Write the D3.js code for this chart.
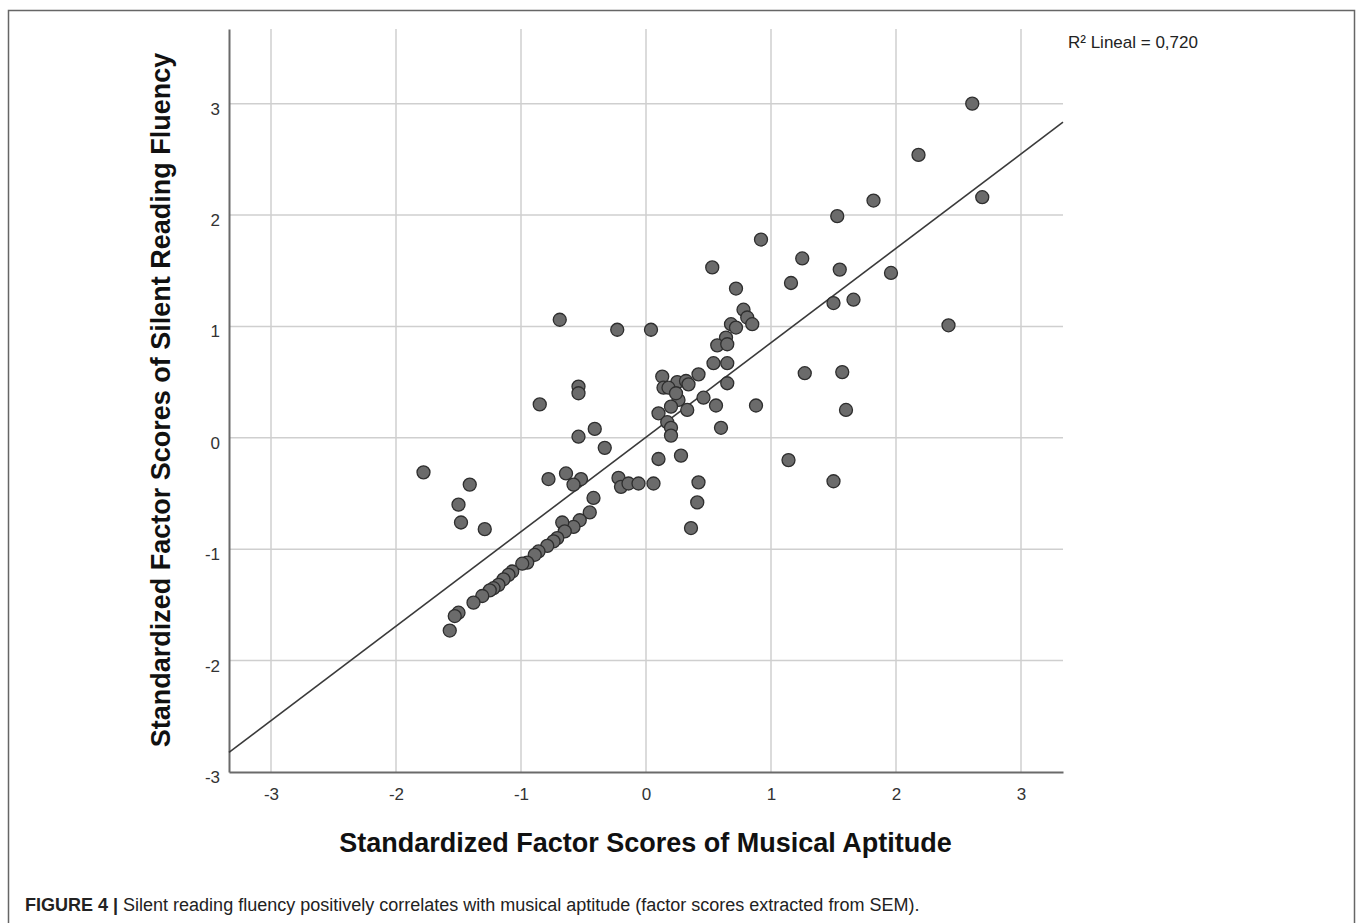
<!DOCTYPE html>
<html>
<head>
<meta charset="utf-8">
<script src="https://cdn.jsdelivr.net/npm/d3@7"></script>
<style>
  body { margin: 0; background: #fff; }
  text { font-family: "Liberation Sans", Arial, sans-serif; }
</style>
</head>
<body>
<svg id="chart" width="1357" height="923"></svg>
<script>
// factor scores
const musicalAptitude = [
  2.61, 2.18, 2.69, 1.82, 1.53, 0.92, 0.53, 1.25, 1.55, 1.16,
  1.96, 1.66, 1.50, 0.72, 0.78, 0.81, 0.85, 0.68, 0.72, 2.42,
  -0.69, -0.23, 0.04, 0.64, 0.57, 0.65, 0.54, 0.65, 0.13, 0.25,
  0.32, 0.34, 0.42, 0.14, 0.18, 0.26, 0.24, 0.46, 0.65, 0.56,
  0.88, 1.27, 1.57, 1.60, 0.20, 0.33, 0.10, 0.17, 0.20, 0.20,
  0.60, -0.33, 0.10, 0.28, 1.14, 1.50, -0.54, -0.54, -0.85, -0.41,
  -0.54, -1.78, -1.41, -1.50, -1.48, -1.29, -0.78, -0.64, -0.52, -0.58,
  -0.22, -0.20, -0.14, -0.06, 0.06, 0.36, 0.41, 0.42, -0.42, -0.45,
  -0.53, -0.58, -0.67, -0.65, -0.71, -0.74, -0.79, -0.86, -0.89, -0.95,
  -0.99, -1.07, -1.10, -1.14, -1.18, -1.22, -1.25, -1.31, -1.38, -1.50,
  -1.53, -1.57
];
const readingFluency = [
  3.00, 2.54, 2.16, 2.13, 1.99, 1.78, 1.53, 1.61, 1.51, 1.39,
  1.48, 1.24, 1.21, 1.34, 1.15, 1.08, 1.02, 1.02, 0.99, 1.01,
  1.06, 0.97, 0.97, 0.90, 0.83, 0.84, 0.67, 0.67, 0.55, 0.50,
  0.51, 0.48, 0.57, 0.45, 0.45, 0.34, 0.40, 0.36, 0.49, 0.29,
  0.29, 0.58, 0.59, 0.25, 0.28, 0.25, 0.22, 0.14, 0.09, 0.02,
  0.09, -0.09, -0.19, -0.16, -0.20, -0.39, 0.46, 0.40, 0.30, 0.08,
  0.01, -0.31, -0.42, -0.60, -0.76, -0.82, -0.37, -0.32, -0.37, -0.42,
  -0.36, -0.44, -0.41, -0.41, -0.41, -0.81, -0.58, -0.40, -0.54, -0.67,
  -0.74, -0.80, -0.76, -0.84, -0.90, -0.93, -0.97, -1.02, -1.05, -1.12,
  -1.13, -1.20, -1.23, -1.27, -1.32, -1.35, -1.37, -1.42, -1.48, -1.57,
  -1.60, -1.73
];
const xTicks = [-3, -2, -1, 0, 1, 2, 3];
const yTicks = [-3, -2, -1, 0, 1, 2, 3];
const regSlope = 0.848;
const regIntercept = 0.005;
const rSquaredLabel = "R\u00b2 Lineal = 0,720";

const points = musicalAptitude.map((x, i) => ({ x: x, y: readingFluency[i] }));

const svg = d3.select("#chart");
const plotLeft = 229, plotRight = 1063, plotTop = 29, plotBottom = 772;

const x = d3.scaleLinear().domain([-3.336, 3.336]).range([plotLeft, plotRight]);
const y = d3.scaleLinear().domain([-3, 3.67]).range([plotBottom, plotTop]);

// outer frame
svg.append("rect")
  .attr("x", 8.5).attr("y", 10.5)
  .attr("width", 1346).attr("height", 960)
  .attr("fill", "none").attr("stroke", "#666").attr("stroke-width", 1.5);

// gridlines
const grid = svg.append("g");
grid.selectAll(".vg").data(xTicks).join("line")
  .attr("x1", d => x(d)).attr("x2", d => x(d))
  .attr("y1", plotTop).attr("y2", plotBottom)
  .attr("stroke", "#cfcfcf").attr("stroke-width", 1.5);
grid.selectAll(".hg").data(yTicks.filter(d => d > -3)).join("line")
  .attr("x1", plotLeft).attr("x2", plotRight)
  .attr("y1", d => y(d)).attr("y2", d => y(d))
  .attr("stroke", "#cfcfcf").attr("stroke-width", 1.5);

// axes (plain hyphen minus, like SPSS)
const fmt = d => String(d);
const xAxis = svg.append("g")
  .attr("transform", `translate(0,${plotBottom})`)
  .call(d3.axisBottom(x).tickValues(xTicks).tickSize(0).tickPadding(16).tickFormat(fmt));
xAxis.select(".domain").attr("stroke", "#6a6a6a").attr("stroke-width", 2);
xAxis.selectAll("text").attr("font-size", 17).attr("fill", "#333")
  .attr("font-family", "'Liberation Sans', Arial, sans-serif");

const yAxis = svg.append("g")
  .attr("transform", `translate(${plotLeft},0)`)
  .call(d3.axisLeft(y).tickValues(yTicks).tickSize(0).tickPadding(9).tickFormat(fmt));
yAxis.select(".domain").attr("stroke", "#6a6a6a").attr("stroke-width", 2);
yAxis.selectAll("text").attr("font-size", 17).attr("fill", "#333").attr("dy", "0.62em")
  .attr("font-family", "'Liberation Sans', Arial, sans-serif");

// regression line
const xd = x.domain();
svg.append("line")
  .attr("x1", x(xd[0])).attr("y1", y(regIntercept + regSlope * xd[0]))
  .attr("x2", x(xd[1])).attr("y2", y(regIntercept + regSlope * xd[1]))
  .attr("stroke", "#3a3a3a").attr("stroke-width", 1.6);

// points
svg.append("g").selectAll("circle").data(points).join("circle")
  .attr("cx", d => x(d.x)).attr("cy", d => y(d.y)).attr("r", 6.5)
  .attr("fill", "#6b6b6b").attr("stroke", "#2e2e2e").attr("stroke-width", 1.3);

// labels
svg.append("text")
  .attr("x", 1068).attr("y", 48)
  .attr("font-size", 17).attr("fill", "#222")
  .text(rSquaredLabel);

svg.append("text")
  .attr("x", 645.5).attr("y", 852)
  .attr("text-anchor", "middle").attr("font-size", 27).attr("font-weight", "bold").attr("fill", "#111")
  .text("Standardized Factor Scores of Musical Aptitude");

svg.append("text")
  .attr("transform", "translate(170,400) rotate(-90)")
  .attr("text-anchor", "middle").attr("font-size", 27).attr("font-weight", "bold").attr("fill", "#111")
  .text("Standardized Factor Scores of Silent Reading Fluency");

const cap = svg.append("text").attr("x", 25).attr("y", 911).attr("font-size", 18).attr("fill", "#222");
cap.append("tspan").attr("font-weight", "bold").text("FIGURE 4 | ");
cap.append("tspan").text("Silent reading fluency positively correlates with musical aptitude (factor scores extracted from SEM).");
</script>
</body>
</html>
